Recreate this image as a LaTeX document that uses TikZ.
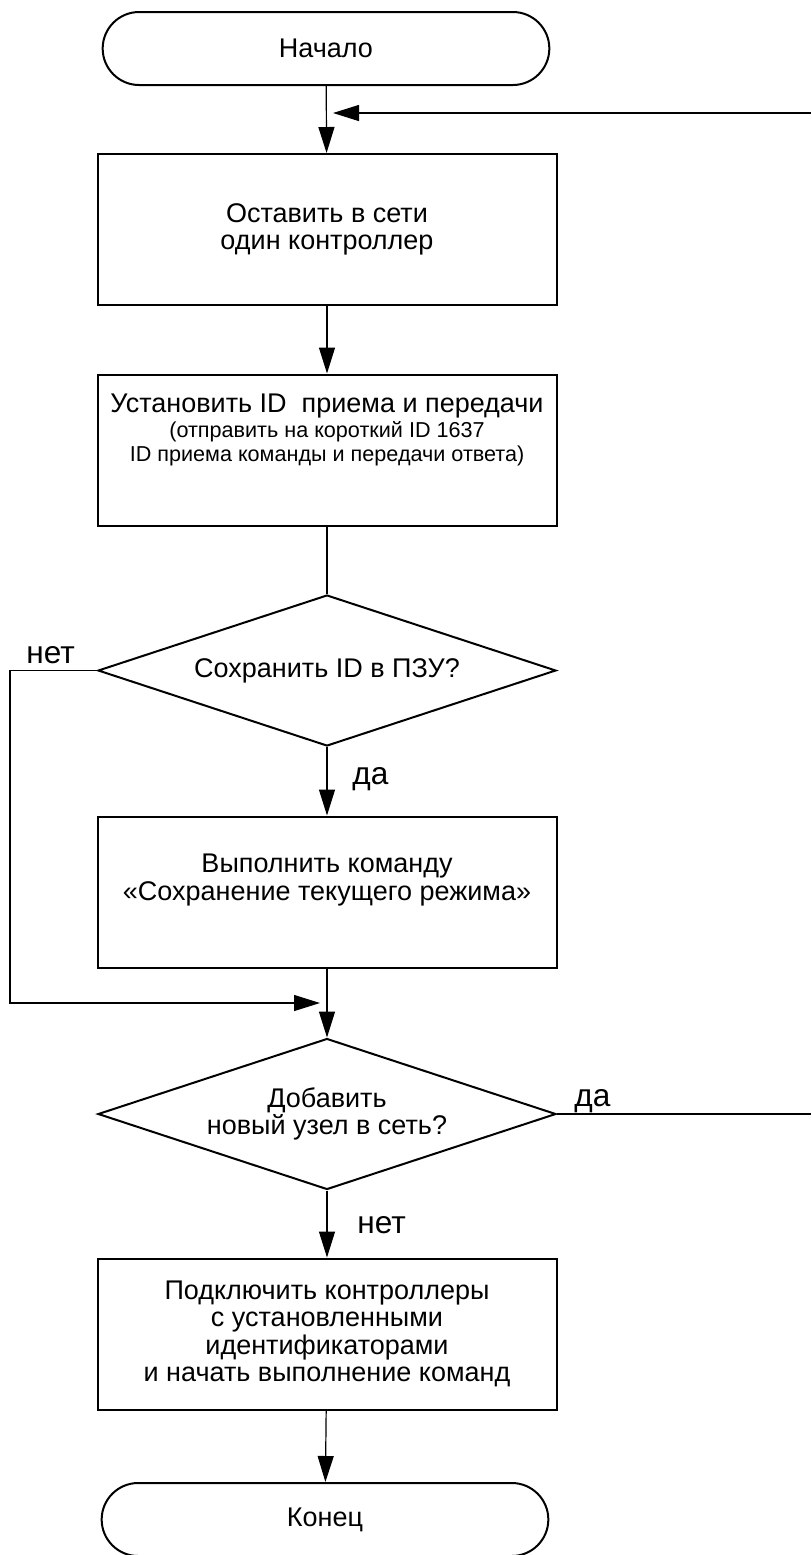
\documentclass[tikz,border=0pt]{standalone}
\usepackage{fontspec}
\setmainfont{Liberation Sans}
\usetikzlibrary{arrows.meta,shapes.geometric,shapes.misc}
\newcommand{\boxfont}{\fontsize{13.5}{13.7}\selectfont}
\newcommand{\smallfont}{\fontsize{10.8}{12}\selectfont}
\newcommand{\lblfont}{\fontsize{15.8}{16}\selectfont}

\tikzset{
  term/.style={draw, line width=1pt, rounded rectangle, minimum width=230pt, minimum height=36.5pt, font=\boxfont},
  proc/.style={draw, line width=1pt, rectangle, minimum width=229.5pt, minimum height=75.5pt, align=center, font=\boxfont},
  decide/.style={draw, line width=1pt, diamond, aspect=3, minimum width=229pt, minimum height=75.5pt, inner sep=0pt, align=center, font=\boxfont},
  txt/.style={align=center, font=\boxfont},
  lbl/.style={anchor=base west, inner sep=0pt, font=\lblfont},
  conn/.style={line width=0.6pt},
  arr/.style={conn, -{Triangle[length=13pt,width=8pt]}}
}

\begin{document}
\begin{tikzpicture}[x=0.5pt, y=-0.5pt]
        \useasboundingbox (0,0) rectangle (811,1555);
        % flow: start -> boxes -> decisions -> end
        \node (start) at (326,48.5) [term] {Начало};
        \node (box1) at (327,229.5) [proc] {Оставить в сети\\один контроллер};
        \node (box2) at (327,450) [proc] {};
        \node (box2txt) at (327,430) [txt] {Установить ID\ \ приема и передачи\\[-1.5pt]
          {\smallfont (отправить на короткий ID 1637}\\[-1.5pt]
          {\smallfont ID приема команды и передачи ответа)}};
        \node (dec1) at (327,670.5) [decide] {Сохранить ID в ПЗУ?};
        \node (box3) at (327,892) [proc] {};
        \node (box3txt) at (327,880) [txt] {Выполнить команду\\«Сохранение текущего режима»};
        \node (dec2) at (327,1114) [decide] {Добавить\\новый узел в сеть?};
        \node (box4) at (327,1334) [proc] {Подключить контроллеры\\с установленными\\идентификаторами\\и начать выполнение команд};
        \node (end) at (325,1519.5) [term] {Конец};

        \coordinate (retin) at (811,113);
        \coordinate (rettip) at (333,113);
        \coordinate (loopL) at (10,1003);
        \coordinate (jointip) at (320,1003);
        \coordinate (yesout) at (811,1114);

        \draw[arr] (start) to (box1);
        \draw[arr] (retin) to (rettip);
        \draw[arr] (box1) to (box2);
        \draw[conn] (box2) to (dec1);
        \draw[arr] (dec1) to (box3);
        \draw[arr] (dec1.west) to (loopL |- dec1.west) to (loopL) to (jointip);
        \draw[arr] (box3) to (dec2);
        \draw[conn] (dec2.east) to (yesout);
        \draw[arr] (dec2) to (box4);
        \draw[arr] (box4) to (end);

        \node (no1) at (26,663) [lbl] {нет};
        \node (yes1) at (352,784) [lbl] {да};
        \node (yes2) at (574,1106) [lbl] {да};
        \node (no2) at (357,1233) [lbl] {нет};
\end{tikzpicture}
\end{document}
